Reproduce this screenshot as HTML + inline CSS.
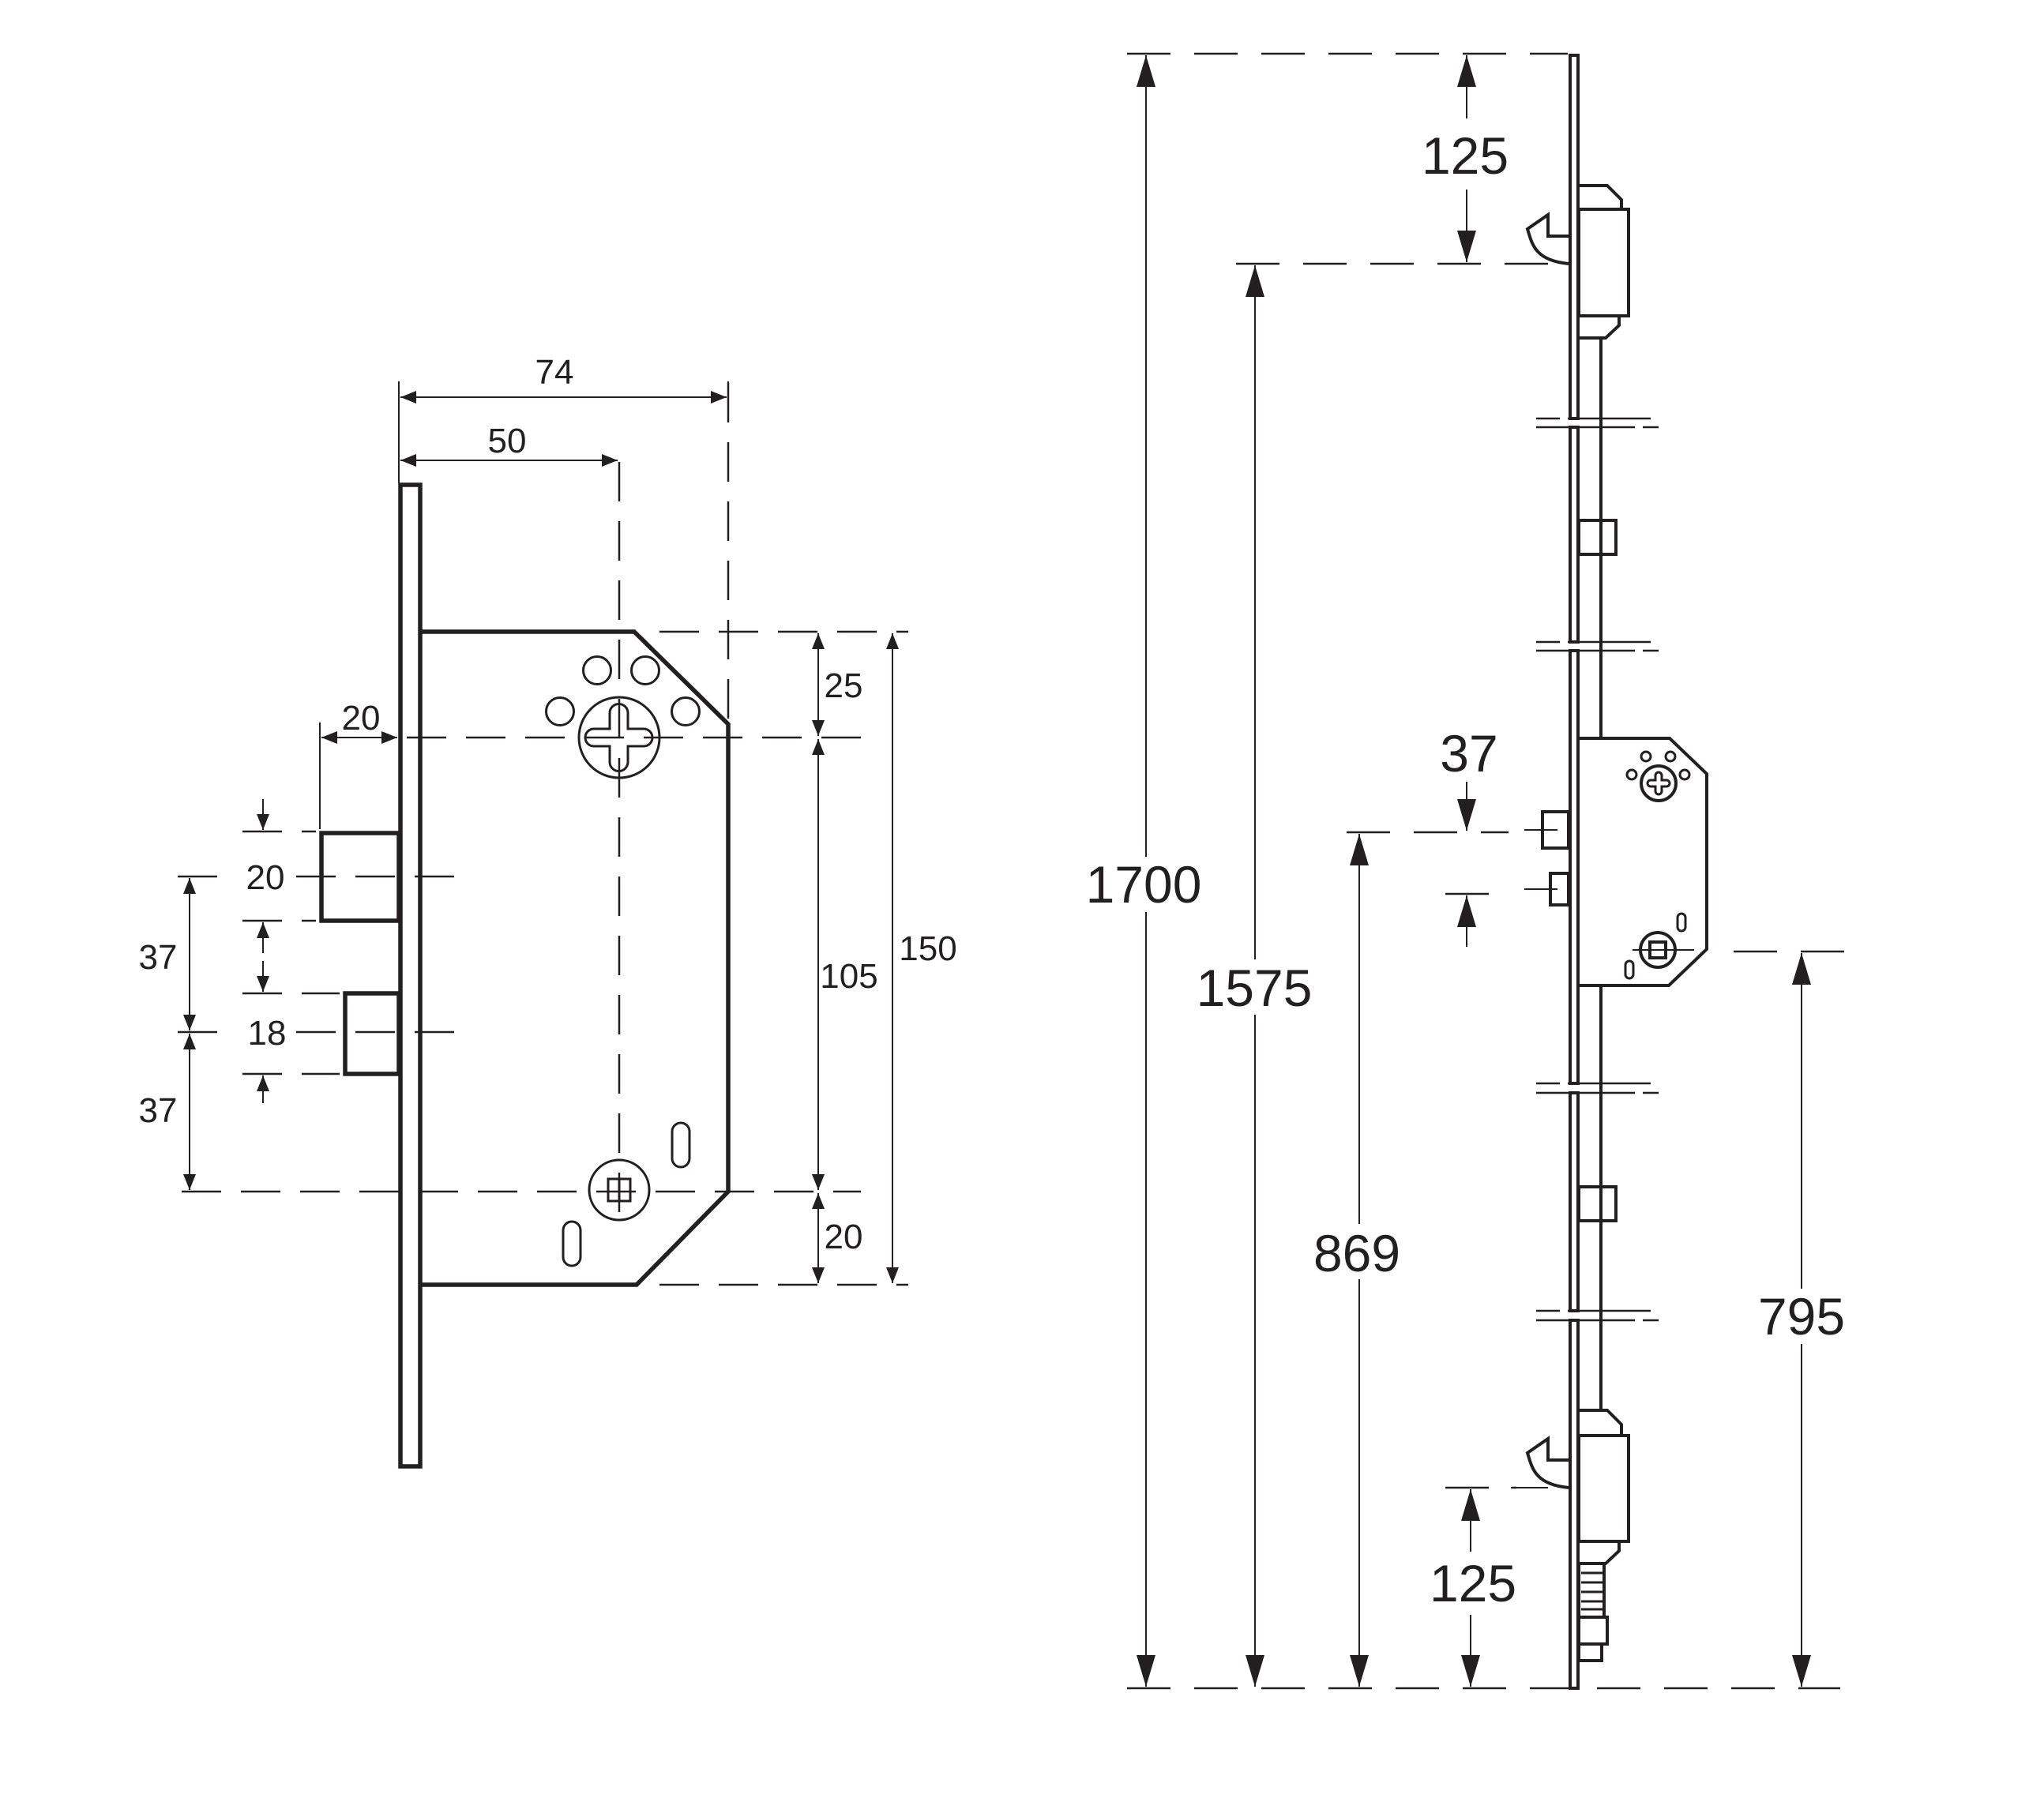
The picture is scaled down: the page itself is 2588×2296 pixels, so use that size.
<!DOCTYPE html>
<html><head><meta charset="utf-8"><style>html,body{margin:0;padding:0;background:#fff}svg{display:block}text{font-family:"Liberation Sans",sans-serif;fill:#231f20}</style></head>
<body>
<svg width="2588" height="2296" viewBox="0 0 2588 2296" xmlns="http://www.w3.org/2000/svg">
<defs>
<marker id="a" viewBox="0 0 20 16" refX="20" refY="8" markerWidth="20" markerHeight="16" markerUnits="userSpaceOnUse" orient="auto-start-reverse"><path d="M0,0 L20,8 L0,16 Z" fill="#231f20"/></marker>
<marker id="b" viewBox="0 0 40 24" refX="40" refY="12" markerWidth="40" markerHeight="24" markerUnits="userSpaceOnUse" orient="auto-start-reverse"><path d="M0,0 L40,12 L0,24 Z" fill="#231f20"/></marker>
</defs>
<g fill="none" stroke="#231f20">
<!-- LEFT DRAWING -->
<g stroke-width="2.5" stroke-dasharray="50,25">
<line x1="784" y1="585" x2="784" y2="1560"/>
<line x1="922" y1="485" x2="922" y2="917"/>
<line x1="515" y1="934" x2="1090" y2="934"/>
<line x1="230" y1="1509" x2="1090" y2="1509"/>
<line x1="835" y1="800" x2="1150" y2="800"/>
<line x1="835" y1="1627" x2="1150" y2="1627"/>
<line x1="225" y1="1110" x2="275" y2="1110"/>
<line x1="375" y1="1110" x2="580" y2="1110"/>
<line x1="225" y1="1307" x2="275" y2="1307"/>
<line x1="375" y1="1307" x2="580" y2="1307"/>
<line x1="307" y1="1053" x2="400" y2="1053"/>
<line x1="307" y1="1166" x2="400" y2="1166"/>
<line x1="307" y1="1258" x2="430" y2="1258"/>
<line x1="307" y1="1360" x2="430" y2="1360"/>
</g>
<g stroke-width="5.5">
<rect x="507" y="614" width="25" height="1243"/>
<path d="M532,800 L803,800 L922,917 L922,1509 L806,1627 L532,1627"/>
<rect x="407" y="1055" width="98" height="111"/>
<rect x="437" y="1258" width="68" height="102"/>
</g>
<g stroke-width="3">
<circle cx="784" cy="934" r="51"/>
<path d="M772,945 L752,945 A11,11 0 0 1 752,923 L772,923 L772,903 A11,11 0 0 1 795,903 L795,923 L815,923 A11,11 0 0 1 815,945 L795,945 L795,965 A11,11 0 0 1 772,965 Z"/>
<circle cx="756" cy="849" r="17.5"/><circle cx="817" cy="849" r="17.5"/>
<circle cx="709" cy="901" r="17.5"/><circle cx="868" cy="901" r="17.5"/>
<circle cx="784" cy="1507" r="38"/>
<rect x="770" y="1493" width="28" height="28"/><line x1="784" y1="1493" x2="784" y2="1521"/>
<rect x="851" y="1422" width="22" height="56" rx="11"/>
<rect x="713" y="1547" width="22" height="56" rx="11"/>
</g>
<g stroke-width="2">
<line x1="505" y1="483" x2="505" y2="612"/>
<line x1="922" y1="483" x2="922" y2="500" />
<line x1="405" y1="915" x2="405" y2="1050"/>
<line x1="507" y1="503" x2="920" y2="503" marker-start="url(#a)" marker-end="url(#a)"/>
<line x1="507" y1="583" x2="782" y2="583" marker-start="url(#a)" marker-end="url(#a)"/>
<line x1="407" y1="934" x2="503" y2="934" marker-start="url(#a)" marker-end="url(#a)"/>
<line x1="1036" y1="802" x2="1036" y2="932" marker-start="url(#a)" marker-end="url(#a)"/>
<line x1="1036" y1="936" x2="1036" y2="1507" marker-start="url(#a)" marker-end="url(#a)"/>
<line x1="1036" y1="1511" x2="1036" y2="1625" marker-start="url(#a)" marker-end="url(#a)"/>
<line x1="1130" y1="802" x2="1130" y2="1625" marker-start="url(#a)" marker-end="url(#a)"/>
<line x1="240" y1="1112" x2="240" y2="1305" marker-start="url(#a)" marker-end="url(#a)"/>
<line x1="240" y1="1309" x2="240" y2="1507" marker-start="url(#a)" marker-end="url(#a)"/>
<line x1="333" y1="1012" x2="333" y2="1051" marker-end="url(#a)"/>
<line x1="333" y1="1207" x2="333" y2="1168" marker-end="url(#a)"/>
<line x1="333" y1="1217" x2="333" y2="1256" marker-end="url(#a)"/>
<line x1="333" y1="1397" x2="333" y2="1362" marker-end="url(#a)"/>
</g>
<!-- RIGHT DRAWING -->
<g stroke-width="2.5" stroke-dasharray="55,30">
<line x1="1427" y1="68" x2="1985" y2="68"/>
<line x1="1565" y1="334" x2="1985" y2="334"/>
<line x1="1427" y1="2138" x2="2330" y2="2138"/>
<line x1="2195" y1="1205" x2="2350" y2="1205"/>
<line x1="1705" y1="1054" x2="1910" y2="1054"/>
<line x1="1830" y1="1132" x2="1910" y2="1132"/>
<line x1="1830" y1="1884" x2="1920" y2="1884"/>
</g>
<g stroke-width="2.5">
<line x1="1945" y1="530" x2="1975" y2="530"/><line x1="1985" y1="530" x2="2090" y2="530"/>
<line x1="1945" y1="541" x2="2070" y2="541"/><line x1="2080" y1="541" x2="2100" y2="541"/>
<line x1="1945" y1="813" x2="1975" y2="813"/><line x1="1985" y1="813" x2="2090" y2="813"/>
<line x1="1945" y1="824" x2="2070" y2="824"/><line x1="2080" y1="824" x2="2100" y2="824"/>
<line x1="1945" y1="1372" x2="1975" y2="1372"/><line x1="1985" y1="1372" x2="2090" y2="1372"/>
<line x1="1945" y1="1384" x2="2070" y2="1384"/><line x1="2080" y1="1384" x2="2100" y2="1384"/>
<line x1="1945" y1="1660" x2="1975" y2="1660"/><line x1="1985" y1="1660" x2="2090" y2="1660"/>
<line x1="1945" y1="1672" x2="2070" y2="1672"/><line x1="2080" y1="1672" x2="2100" y2="1672"/>
</g>
<g stroke-width="4" stroke-linejoin="miter">
<rect x="1988" y="70" width="10" height="460"/>
<rect x="1988" y="541" width="10" height="272"/>
<rect x="1988" y="824" width="10" height="548"/>
<rect x="1988" y="1384" width="10" height="276"/>
<rect x="1988" y="1672" width="10" height="466"/>
<line x1="2027" y1="428" x2="2027" y2="935"/>
<line x1="2027" y1="1248" x2="2027" y2="1786"/>
<path d="M1999,235 L2035,235 L2053,253 L2053,265"/>
<rect x="1999" y="265" width="63" height="135"/>
<path d="M2050,400 L2050,412 L2033,428 L1999,428"/>
<path d="M1986,299 L1960,299 L1960,272 L1934,290 C1940,310 1944,330 1986,334"/>
<rect x="1999" y="659" width="47" height="43"/>
<rect x="1999" y="1503" width="47" height="43"/>
<path d="M1999,935 L2114,935 L2161,980 L2161,1202 L2113,1248 L1999,1248"/>
<rect x="1953" y="1028" width="33" height="46"/>
<rect x="1963" y="1106" width="23" height="40"/>
<circle cx="2100" cy="992" r="22"/>
<circle cx="2099" cy="1203" r="22"/>
<rect x="2089" y="1193" width="20" height="20"/>
<path d="M1999,1786 L2035,1786 L2053,1804 L2053,1818"/>
<rect x="1999" y="1818" width="63" height="134"/>
<path d="M2050,1952 L2050,1964 L2033,1980 L1999,1980"/>
<path d="M1986,1849 L1960,1849 L1960,1822 L1934,1840 C1940,1860 1944,1880 1986,1884"/>
<rect x="1999" y="1980" width="32" height="68"/>
<rect x="1999" y="2048" width="36" height="34"/>
<rect x="1999" y="2082" width="29" height="21"/>
</g>
<g stroke-width="3">
<line x1="2002" y1="1992" x2="2031" y2="1992"/><line x1="2002" y1="2004" x2="2031" y2="2004"/>
<line x1="2002" y1="2016" x2="2031" y2="2016"/><line x1="2002" y1="2028" x2="2031" y2="2028"/>
<line x1="2002" y1="2038" x2="2031" y2="2038"/>
<path d="M2096,996 L2090,996 A4,4 0 0 1 2090,988 L2096,988 L2096,982 A4,4 0 0 1 2104,982 L2104,988 L2110,988 A4,4 0 0 1 2110,996 L2104,996 L2104,1002 A4,4 0 0 1 2096,1002 Z"/>
<circle cx="2084" cy="958" r="6"/><circle cx="2115" cy="958" r="6"/>
<circle cx="2066" cy="981" r="6"/><circle cx="2133" cy="981" r="6"/>
<rect x="2124" y="1157" width="10" height="22" rx="5"/>
<rect x="2058" y="1217" width="10" height="22" rx="5"/>
</g>
<g stroke-width="2">
<line x1="2067" y1="1203" x2="2145" y2="1203"/>
<line x1="1930" y1="1051" x2="1972" y2="1051"/>
<line x1="1930" y1="1126" x2="1972" y2="1126"/>
<line x1="1913" y1="334" x2="1960" y2="334"/>
<line x1="1913" y1="1884" x2="1960" y2="1884"/>
<line x1="1451" y1="70" x2="1451" y2="2136" marker-start="url(#b)" marker-end="url(#b)"/>
<line x1="1589" y1="336" x2="1589" y2="2136" marker-start="url(#b)" marker-end="url(#b)"/>
<line x1="1721" y1="1056" x2="1721" y2="2136" marker-start="url(#b)" marker-end="url(#b)"/>
<line x1="2281" y1="1207" x2="2281" y2="2136" marker-start="url(#b)" marker-end="url(#b)"/>
<line x1="1857" y1="150" x2="1857" y2="70" marker-end="url(#b)"/>
<line x1="1857" y1="240" x2="1857" y2="332" marker-end="url(#b)"/>
<line x1="1857" y1="990" x2="1857" y2="1052" marker-end="url(#b)"/>
<line x1="1857" y1="1199" x2="1857" y2="1134" marker-end="url(#b)"/>
<line x1="1862" y1="1965" x2="1862" y2="1886" marker-end="url(#b)"/>
<line x1="1862" y1="2045" x2="1862" y2="2136" marker-end="url(#b)"/>
</g>
</g>
<g fill="#fff">
<rect x="1370" y="1085" width="160" height="70"/>
<rect x="1510" y="1215" width="160" height="70"/>
<rect x="1660" y="1550" width="120" height="70"/>
<rect x="2220" y="1632" width="120" height="70"/>
</g>
<g font-size="44" text-anchor="middle">
<text x="702" y="486">74</text>
<text x="642" y="573">50</text>
<text x="457" y="924">20</text>
<text x="1068" y="883">25</text>
<text x="1075" y="1251">105</text>
<text x="1068" y="1581">20</text>
<text x="1175" y="1216">150</text>
<text x="336" y="1126">20</text>
<text x="338" y="1323">18</text>
<text x="200" y="1227">37</text>
<text x="200" y="1421">37</text>
</g>
<g font-size="66" text-anchor="middle">
<text x="1448" y="1143">1700</text>
<text x="1588" y="1274">1575</text>
<text x="1718" y="1610">869</text>
<text x="2281" y="1690">795</text>
<text x="1855" y="220">125</text>
<text x="1860" y="977">37</text>
<text x="1865" y="2028">125</text>
</g>
</svg>
</body></html>
